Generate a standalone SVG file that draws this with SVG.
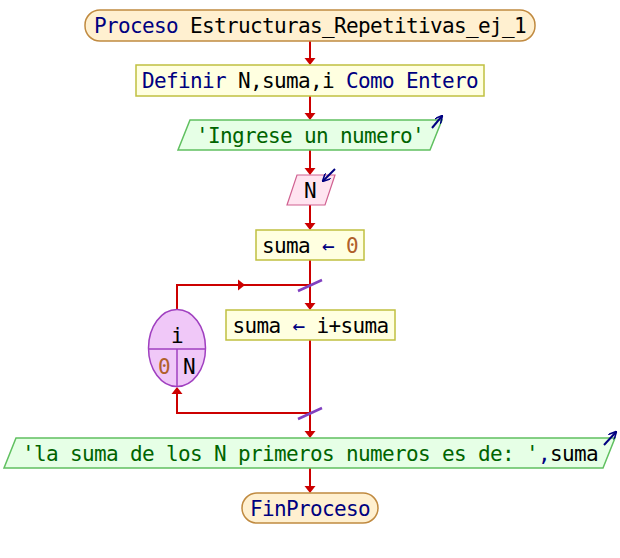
<svg xmlns="http://www.w3.org/2000/svg" width="620" height="558" viewBox="0 0 620 558">
<defs>
<style>
text{font-family:"DejaVu Sans Mono","Liberation Mono",monospace;font-size:21px;letter-spacing:-0.64px;fill:#000}
.kw{fill:#000080}
.st{fill:#006400}
.nm{fill:#b0602a}
.term{fill:#fff0d0;stroke:#c08a40;stroke-width:1.5}
.proc{fill:#ffffe0;stroke:#c0c040;stroke-width:1.5}
.out{fill:#e6ffe6;stroke:#60c060;stroke-width:1.5}
.inp{fill:#ffe4f0;stroke:#d06090;stroke-width:1.2}
.loop{fill:#f0c8f8;stroke:#a040c0;stroke-width:1.5}
.edge{fill:none;stroke:#cc0000;stroke-width:2}
.slash{stroke:#8040c0;stroke-width:2.5}
.io{stroke:#000080;stroke-width:2;fill:none}
</style>
<marker id="ioa" viewBox="0 0 10 10" refX="9" refY="5" markerWidth="8" markerHeight="8" orient="auto" markerUnits="userSpaceOnUse">
<path d="M0,0 L10,5 L0,10" fill="none" stroke="#000080" stroke-width="2"/>
</marker>
</defs>

<g id="connectors">
<path class="edge" d="M310,41 V64"/>
<path class="edge" d="M310,96 V119"/>
<path class="edge" d="M310,150 V174"/>
<path class="edge" d="M310,205 V229"/>
<path class="edge" d="M310,260 V309"/>
<path class="edge" d="M177,310 V285 H310"/>
<path class="edge" d="M310,340 V437"/>
<path class="edge" d="M310,413 H177 V388"/>
<path class="edge" d="M310,468 V492"/>
<g fill="#cc0000">
<polygon points="304.5,58 315.5,58 310,65"/>
<polygon points="304.5,113 315.5,113 310,120"/>
<polygon points="304.5,168 315.5,168 310,175"/>
<polygon points="304.5,223 315.5,223 310,230"/>
<polygon points="304.5,303 315.5,303 310,310"/>
<polygon points="304.5,431 315.5,431 310,438"/>
<polygon points="304.5,486 315.5,486 310,493"/>
<polygon points="238,279.5 238,290.5 245,285"/>
<polygon points="171.5,394 182.5,394 177,387"/>
</g>
<line class="slash" x1="298" y1="291" x2="322" y2="280"/>
<line class="slash" x1="298" y1="419" x2="322" y2="408"/>
</g>

<g id="start">
<rect class="term" x="85" y="10" width="450" height="31" rx="15" ry="15"/>
<text x="310" y="33" text-anchor="middle"><tspan class="kw">Proceso</tspan> Estructuras_Repetitivas_ej_1</text>
</g>

<g id="definir">
<rect class="proc" x="136" y="65" width="348" height="31"/>
<text x="310" y="88" text-anchor="middle"><tspan class="kw">Definir</tspan> N,suma,i <tspan class="kw">Como Entero</tspan></text>
</g>

<g id="escribir1">
<polygon class="out" points="190,120 442,120 430,150 178,150"/>
<text x="310" y="143" text-anchor="middle" class="st">'Ingrese un numero'</text>
<line class="io" x1="432" y1="128" x2="442" y2="116" marker-end="url(#ioa)"/>
</g>

<g id="leer">
<polygon class="inp" points="297,175 335,175 325,205 287,205"/>
<text x="310" y="198" text-anchor="middle">N</text>
<line class="io" x1="335" y1="169" x2="323" y2="181" marker-end="url(#ioa)"/>
</g>

<g id="asig1">
<rect class="proc" x="256" y="230" width="108" height="30"/>
<text x="310" y="253" text-anchor="middle">suma <tspan class="kw">←</tspan> <tspan class="nm">0</tspan></text>
</g>

<g id="para">
<ellipse class="loop" cx="177" cy="348" rx="28.5" ry="38.5"/>
<line x1="148.5" y1="349" x2="205.5" y2="349" stroke="#a040c0" stroke-width="1.5"/>
<line x1="177" y1="349" x2="177" y2="386.5" stroke="#a040c0" stroke-width="1.5"/>
<text x="177" y="343" text-anchor="middle">i</text>
<text x="164" y="374" text-anchor="middle" class="nm">0</text>
<text x="189" y="374" text-anchor="middle">N</text>
</g>

<g id="asig2">
<rect class="proc" x="226" y="310" width="169" height="30"/>
<text x="310.5" y="333" text-anchor="middle">suma <tspan class="kw">←</tspan> i+suma</text>
</g>

<g id="escribir2">
<polygon class="out" points="16,438 615,438 603,468 4,468"/>
<text x="310" y="461" text-anchor="middle"><tspan class="st">'la suma de los N primeros numeros es de: '</tspan><tspan class="kw">,</tspan>suma</text>
<line class="io" x1="604" y1="445" x2="616" y2="432" marker-end="url(#ioa)"/>
</g>

<g id="fin">
<rect class="term" x="242" y="493" width="136" height="30" rx="15" ry="15"/>
<text x="310" y="516" text-anchor="middle" class="kw">FinProceso</text>
</g>
</svg>
